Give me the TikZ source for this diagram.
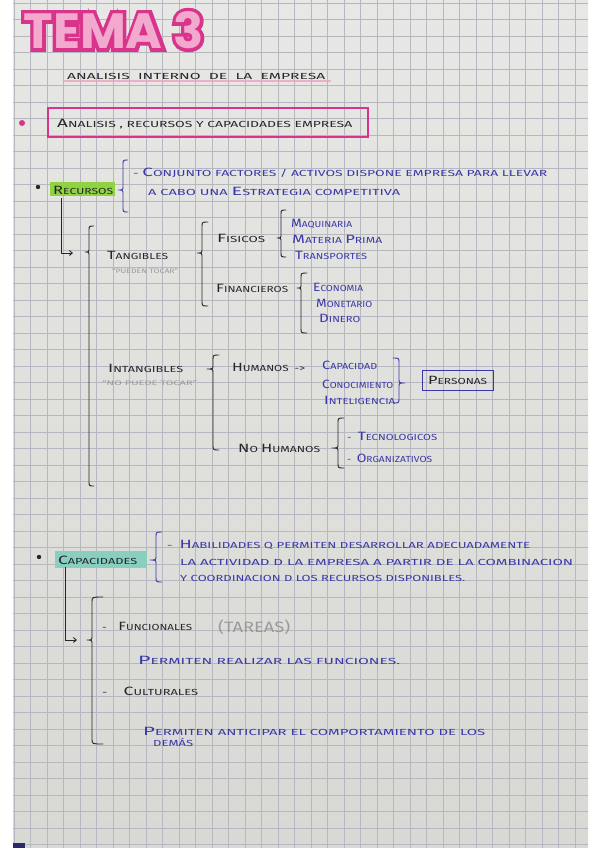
\documentclass[tikz,border=0pt]{standalone}
\usepackage{fontspec}
\usepackage{graphicx}
\usetikzlibrary{calc,arrows.meta}
\newfontfamily\hand{Fira Sans}
\newfontfamily\titlefont{Poppins}
\definecolor{paperTop}{HTML}{E7E7E5}
\definecolor{paperBot}{HTML}{D8D8D4}
\definecolor{gridc}{HTML}{B7B7BF}
\definecolor{inkc}{HTML}{262629}
\definecolor{bluec}{HTML}{3A38A8}
\definecolor{grayc}{HTML}{9A9A9C}
\definecolor{tpink}{HTML}{F3A8CE}
\definecolor{tmag}{HTML}{D8348C}
\definecolor{ulpink}{HTML}{E9A3C6}
\definecolor{hlgreen}{HTML}{8FD342}
\definecolor{hlteal}{HTML}{88CFC2}
\definecolor{cornerc}{HTML}{2A2A6A}
\newcommand\fitw[2]{\resizebox{#1pt}{\height}{#2}}
\newcommand\Ini[1]{{\fontsize{12}{12}\selectfont #1}}
\newcommand\titletxt{\titlefont\bfseries\resizebox{180pt}{37pt}{TEMA 3}}
\newcommand\titleouttxt{\titlefont\bfseries\addfontfeature{FakeBold=14}\resizebox{180pt}{37pt}{TEMA 3}}
% brace: style, xtip, xmid, xend, ytop, ytip, ybot
\newcommand\Br[7]{\draw[#1] (#4,#5) .. controls (#3,#5) .. (#3,#5+5) -- (#3,#6-4) .. controls (#3,#6) .. (#2,#6) .. controls (#3,#6) .. (#3,#6+4) -- (#3,#7-5) .. controls (#3,#7) .. (#4,#7);}
\begin{document}
\begin{tikzpicture}[x=1pt,y=-1pt,
  hw/.style={anchor=west, inner sep=0pt, font=\hand\fontsize{8.8}{9}\selectfont},
  ink/.style={text=inkc},
  blu/.style={text=bluec},
  gry/.style={text=grayc},
  bline/.style={draw=inkc, line width=0.9pt, line cap=round, line join=round},
  bblue/.style={draw=bluec, line width=0.9pt, line cap=round, line join=round},
  arr/.style={draw=inkc, line width=0.9pt, -{Straight Barb[length=3pt,width=5pt]}},
  gridl/.style={draw=gridc, line width=0.6pt}
]
\useasboundingbox (0,0) rectangle (600,848);
\fill[white] (0,0) rectangle (600,848);
\shade[top color=paperTop, bottom color=paperBot] (13,0) rectangle (588,848);
\begin{scope}
\clip (13,0) rectangle (588,848);
\foreach \i in {0,...,35} \draw[gridl] ({14+16.5*\i},0) -- ({14+16.5*\i},848);
\foreach \j in {0,...,51} \draw[gridl] (13,{3+16.5*\j}) -- (588,{3+16.5*\j});
\end{scope}
\fill[cornerc] (13,843) rectangle (25,848);

% title
\node[inner sep=0pt, text=tmag] (titleout) at (113.5,30) {\titleouttxt};
\node[inner sep=0pt, text=tpink] (title) at (113.5,30) {\titletxt};

% subtitle
\draw[ulpink, line width=2.5pt, opacity=0.8, line cap=round] (65,81) -- (330,81);
\node[hw, ink] (sub) at (67,76) {\fitw{258}{ANALISIS\ \ INTERNO\ \ DE\ \ LA\ \ EMPRESA}};

% box
\fill[tmag] (22,123) circle (3);
\node[hw, ink] (boxt) at (57,124) {\fitw{295}{\Ini{A}NALISIS , RECURSOS Y CAPACIDADES EMPRESA}};
\draw[tmag, line width=1.2pt] (48,108) rectangle (368,137);

% recursos
\fill[inkc] (38,187) circle (2.2);
\fill[hlgreen] (50,182) rectangle (115,196);
\node[hw, ink] (rec) at (53,190) {\fitw{60}{\Ini{R}ECURSOS}};
\Br{bblue}{118}{123}{128}{160}{190}{212}
\node[hw, blu] (c1) at (133,173) {\fitw{414}{- \Ini{C}ONJUNTO FACTORES / ACTIVOS DISPONE EMPRESA PARA LLEVAR}};
\node[hw, blu] (c2) at (148,191) {\fitw{252}{A CABO UNA \Ini{E}STRATEGIA COMPETITIVA}};
\coordinate (a1s) at (61,198);
\coordinate (a1e) at (73,253);
\draw[arr] (a1s) |- (a1e);
\Br{bline}{85}{89}{94}{226}{252}{486}

% tangibles
\node[hw, ink] (tang) at (107,255) {\fitw{61}{\Ini{T}ANGIBLES}};
\node[hw, gry, font=\hand\fontsize{6.5}{7}\selectfont] (tang2) at (112,271) {\fitw{66}{“PUEDEN TOCAR”}};
\Br{bline}{197}{202}{208}{222}{253}{306}
\node[hw, ink] (fis) at (217,238) {\fitw{48}{\Ini{F}ISICOS}};
\Br{bline}{277}{281}{286}{210}{238}{257}
\node[hw, blu] (m1) at (291,224) {\fitw{61}{\Ini{M}AQUINARIA}};
\node[hw, blu] (m2) at (292,239) {\fitw{90}{\Ini{M}ATERIA \Ini{P}RIMA}};
\node[hw, blu] (m3) at (295,255) {\fitw{72}{\Ini{T}RANSPORTES}};
\node[hw, ink] (fin) at (216,288) {\fitw{72}{\Ini{F}INANCIEROS}};
\Br{bline}{297}{301}{307}{273}{288}{333}
\node[hw, blu] (f1) at (313,287) {\fitw{50}{\Ini{E}CONOMIA}};
\node[hw, blu] (f2) at (316,303) {\fitw{56}{\Ini{M}ONETARIO}};
\node[hw, blu] (f3) at (319,318) {\fitw{41}{\Ini{D}INERO}};

% intangibles
\node[hw, ink] (intg) at (108,368) {\fitw{75}{\Ini{I}NTANGIBLES}};
\node[hw, gry, font=\hand\fontsize{6.5}{7}\selectfont] (intg2) at (102,383) {\fitw{95}{“NO PUEDE TOCAR”}};
\Br{bline}{207}{213}{219}{355}{369}{450}
\node[hw, ink] (hum) at (232,367) {\fitw{73}{\Ini{H}UMANOS\ \ ->}};
\node[hw, blu] (h1) at (322,365) {\fitw{55}{\Ini{C}APACIDAD}};
\node[hw, blu] (h2) at (322,384) {\fitw{71}{\Ini{C}ONOCIMIENTO}};
\node[hw, blu] (h3) at (324,400) {\fitw{71}{\Ini{I}NTELIGENCIA}};
\Br{bblue}{405}{399}{393}{358}{383}{403}
\draw[bluec, line width=1pt] (422,370) rectangle (493,390);
\node[hw, text=inkc] (pers) at (428,380) {\fitw{59}{\Ini{P}ERSONAS}};
\node[hw, ink] (nhum) at (238,448) {\fitw{82}{\Ini{N}O \Ini{H}UMANOS}};
\Br{bline}{332}{338}{344}{418}{448}{468}
\node[hw, blu] (n1) at (347,436) {\fitw{90}{-\ \ \Ini{T}ECNOLOGICOS}};
\node[hw, blu] (n2) at (347,458) {\fitw{85}{-\ \ \Ini{O}RGANIZATIVOS}};

% capacidades
\fill[inkc] (39,557) circle (2.2);
\fill[hlteal] (55,551) rectangle (147,568);
\node[hw, ink] (cap) at (58,560) {\fitw{79}{\Ini{C}APACIDADES}};
\Br{bblue}{150}{156}{162}{532}{560}{582}
\node[hw, blu] (k1) at (167,545) {\fitw{363}{-\ \ \Ini{H}ABILIDADES Q PERMITEN DESARROLLAR ADECUADAMENTE}};
\node[hw, blu] (k2) at (180,562) {\fitw{393}{LA ACTIVIDAD D LA EMPRESA A PARTIR DE LA COMBINACION}};
\node[hw, blu] (k3) at (180,578) {\fitw{285}{Y COORDINACION D LOS RECURSOS DISPONIBLES.}};
\coordinate (a2s) at (65,567);
\coordinate (a2e) at (77,640);
\draw[arr] (a2s) |- (a2e);
\Br{bline}{87}{92}{103}{597}{640}{744}
\node[hw, ink] (fun) at (102,626) {\fitw{90}{-\quad \Ini{F}UNCIONALES}};
\node[hw, gry, font=\hand\fontsize{15}{16}\selectfont] (tar) at (218,627) {\fitw{72}{(TAREAS)}};
\node[hw, blu] (p1) at (138,660) {\fitw{262}{\Ini{P}ERMITEN REALIZAR LAS FUNCIONES.}};
\node[hw, ink] (cul) at (102,691) {\fitw{96}{-\quad\ \Ini{C}ULTURALES}};
\node[hw, blu] (p2) at (143,731) {\fitw{342}{\Ini{P}ERMITEN ANTICIPAR EL COMPORTAMIENTO DE LOS}};
\node[hw, blu] (p3) at (153,743) {\fitw{40}{DEMÁS}};
\end{tikzpicture}
\end{document}
